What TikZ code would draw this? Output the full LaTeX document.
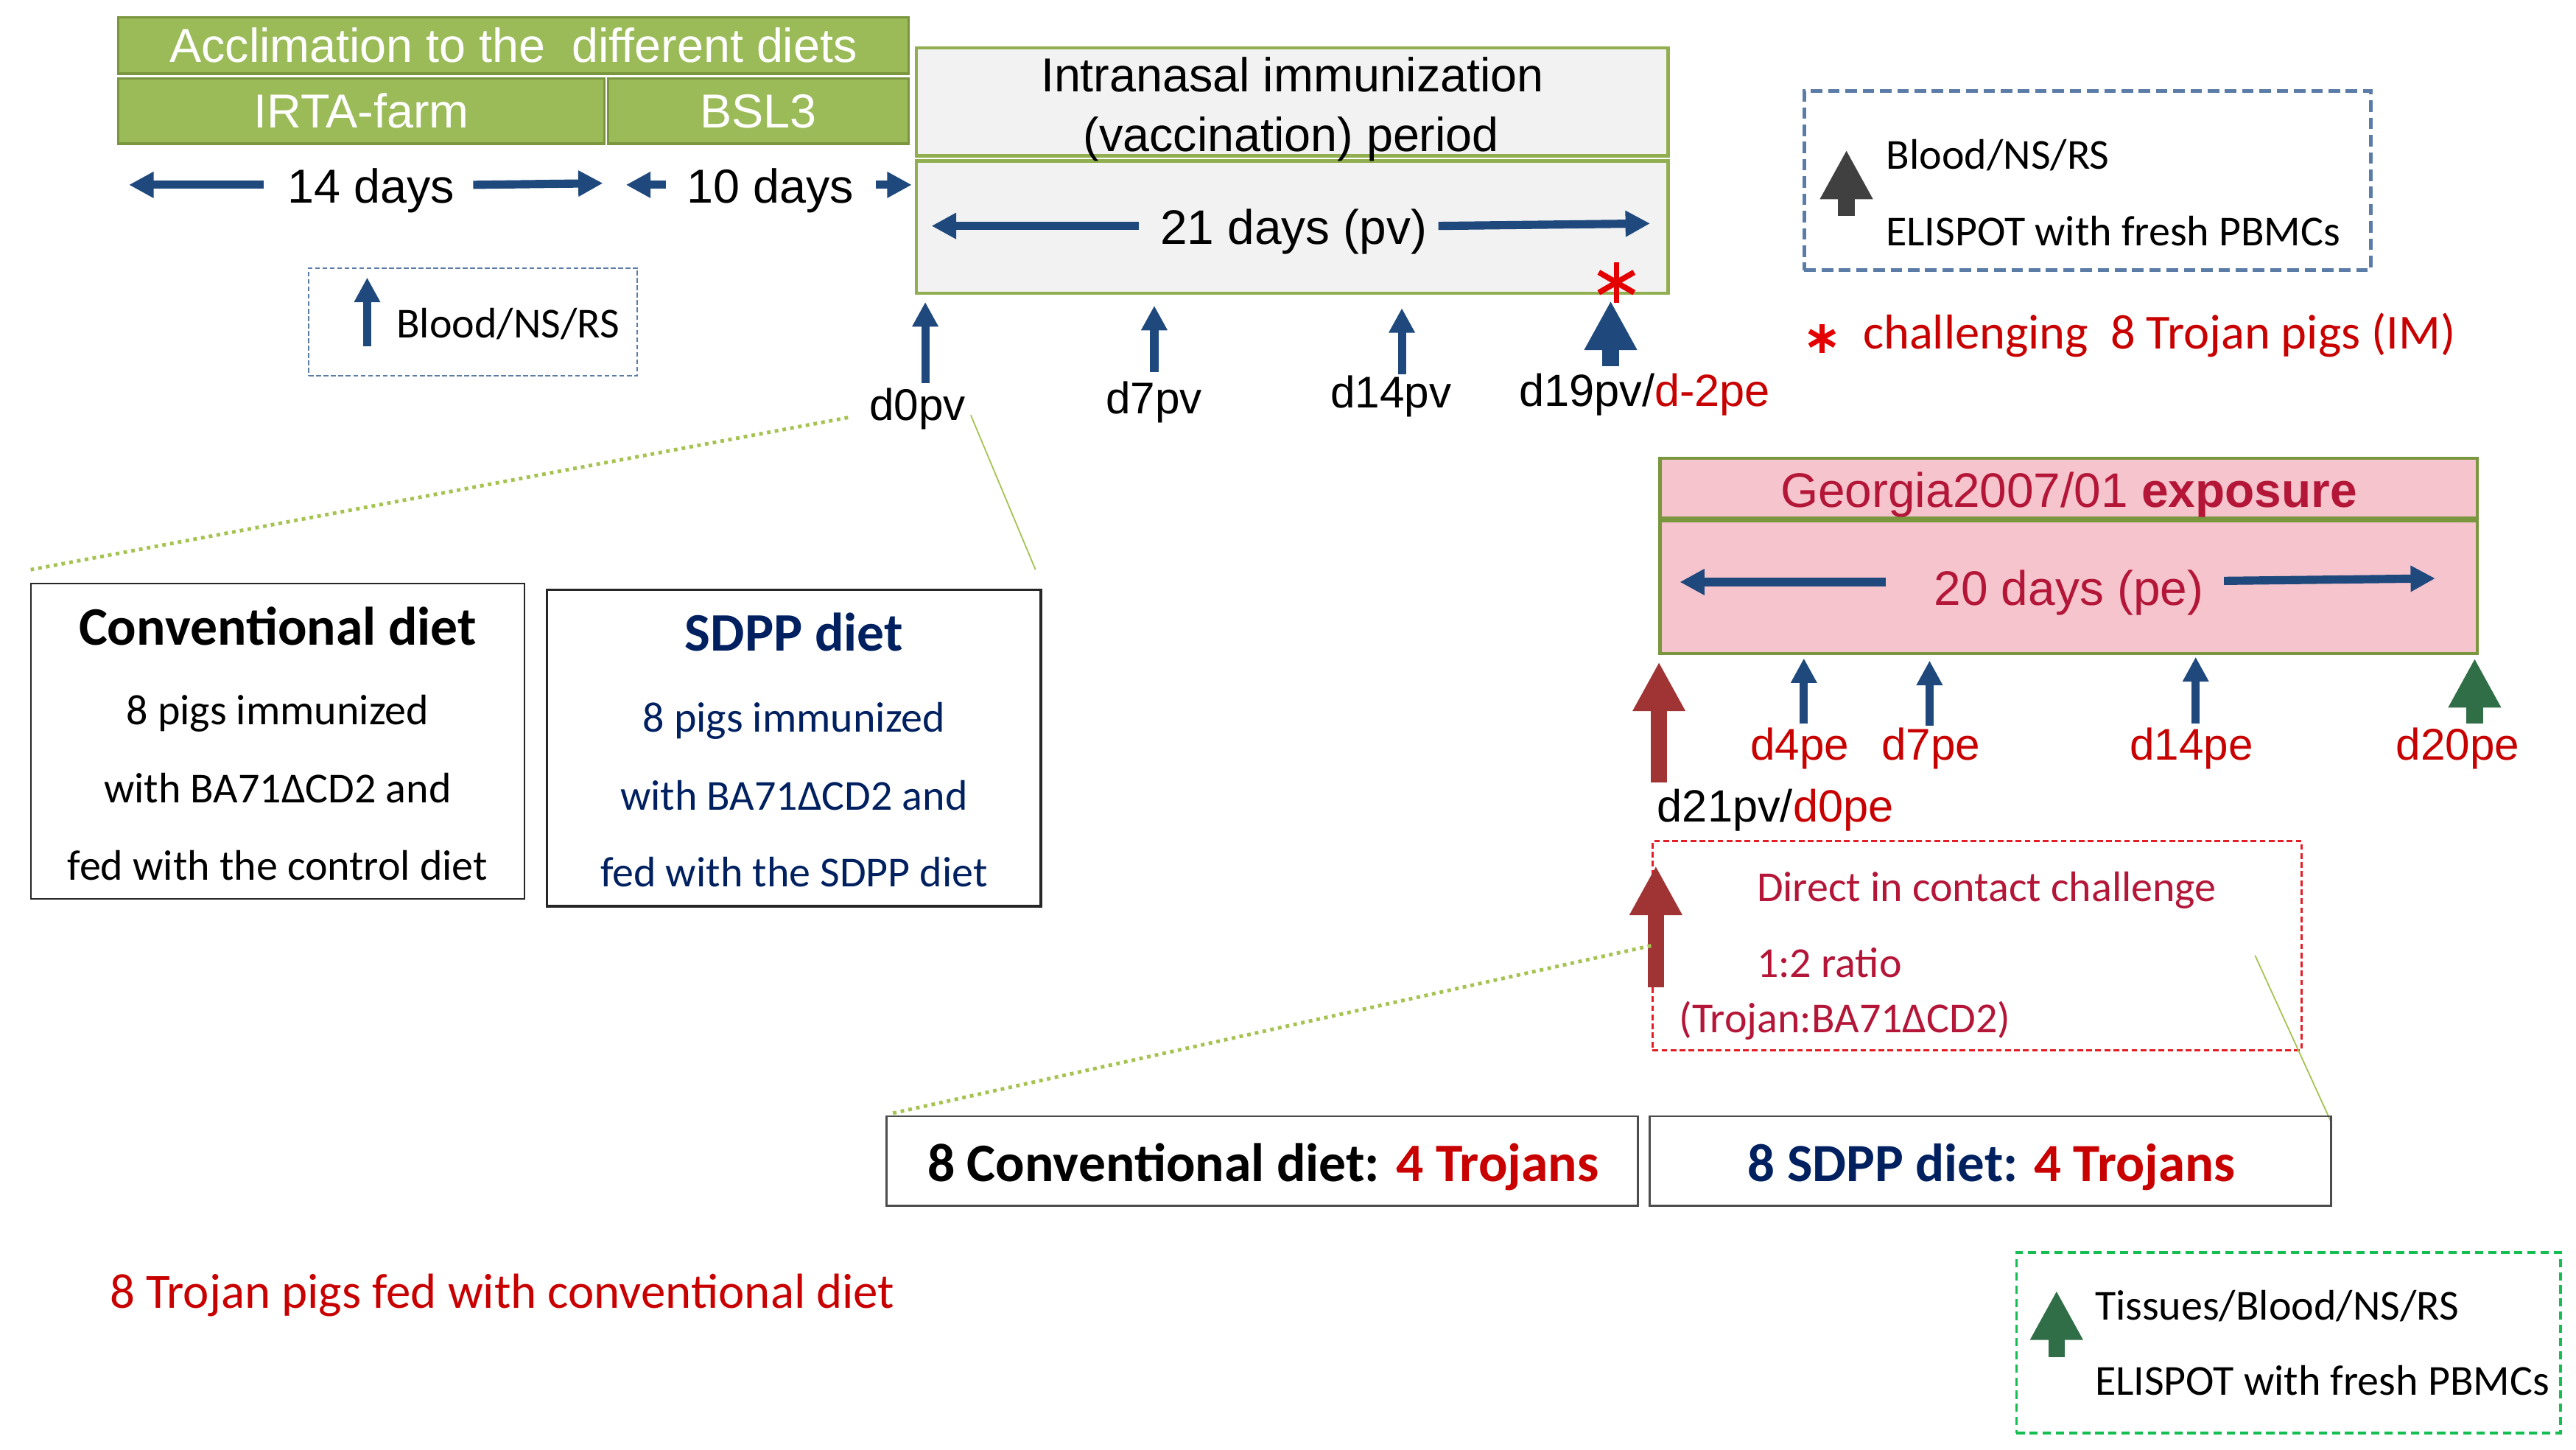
\documentclass[tikz,border=0pt]{standalone}
\usepackage{fontspec}
\setmainfont{Carlito}
\newfontfamily\arialf{Liberation Sans}
\usetikzlibrary{arrows.meta}
\definecolor{accgreen}{RGB}{155,187,89}
\definecolor{accborder}{RGB}{122,150,62}
\definecolor{pvfill}{RGB}{242,242,242}
\definecolor{pvborder}{RGB}{145,175,80}
\definecolor{pinkfill}{RGB}{245,196,205}
\definecolor{navy}{RGB}{0,32,96}
\definecolor{arrblue}{RGB}{31,73,125}
\definecolor{redtxt}{RGB}{200,0,0}
\definecolor{crimson}{RGB}{180,22,56}
\definecolor{arrred}{RGB}{160,52,52}
\definecolor{arrgreen}{RGB}{48,110,72}
\definecolor{arrgray}{RGB}{64,64,64}
\definecolor{legblue}{RGB}{92,124,168}
\definecolor{dashred}{RGB}{228,30,36}
\definecolor{dashgreen}{RGB}{20,190,80}
\definecolor{dotgreen}{RGB}{165,195,80}
\newcommand\fsz[1]{\fontsize{#1}{#1}\selectfont}
\begin{document}
\begin{tikzpicture}[x=1pt,y=-1pt,
  lbl/.style={inner sep=0pt, outer sep=0pt},
  accbox/.style={draw=accborder, fill=accgreen, line width=1.5pt, inner sep=0pt, text=white, font=\arialf\fsz{29}},
  pvbox/.style={draw=pvborder, fill=pvfill, line width=2pt, inner sep=0pt},
  pinkbox/.style={draw=accborder, fill=pinkfill, line width=2pt, inner sep=0pt},
  dietbox/.style={draw=black!85, line width=1pt, inner sep=0pt},
  botbox/.style={draw=black!70, line width=1.2pt, inner sep=0pt},
  legdash/.style={draw=legblue, line width=2.2pt, dash pattern=on 7pt off 3.5pt, inner sep=0pt},
  smalldash/.style={draw=legblue, line width=0.9pt, dash pattern=on 3pt off 1.5pt, inner sep=0pt},
  reddash/.style={draw=dashred, line width=1.3pt, dash pattern=on 3.5pt off 2pt, inner sep=0pt},
  greendash/.style={draw=dashgreen, line width=1.5pt, dash pattern=on 5pt off 3pt, inner sep=0pt},
  thinarr/.style={draw=#1, line width=5pt, -{Triangle[length=15pt,width=15pt]}},
  bigarr/.style={draw=#1, line width=10pt, -{Triangle[length=30pt,width=30pt]}},
  dotline/.style={draw=dotgreen, line width=2.2pt, dash pattern=on 2.2pt off 2.6pt},
  fineline/.style={draw=dotgreen, line width=0.8pt},
  ast/.style={draw=red!90!black, line width=3.4pt}
]
\path[use as bounding box] (0,0) rectangle (1568,882);

% ---------- acclimation ----------
\node[accbox, minimum width=481pt, minimum height=34.3pt] (acc) at (312.5,27.65) {Acclimation to the\ \ different diets};
\node[accbox, minimum width=296pt, minimum height=39.6pt] (irta) at (220,67.6) {IRTA-farm};
\node[accbox, minimum width=183pt, minimum height=39.6pt] (bsl) at (461.5,67.6) {BSL3};

\node[lbl, font=\arialf\fsz{29}, anchor=base] (t14) at (225.8,123.5) {14 days};
\coordinate (a14ls) at (160.6,112.5); \coordinate (a14le) at (78.5,112.5);
\coordinate (a14rs) at (288,112.5); \coordinate (a14re) at (367,111.5);
\draw[thinarr=arrblue] (a14ls) -- (a14le);
\draw[thinarr=arrblue] (a14rs) -- (a14re);
\node[lbl, font=\arialf\fsz{29}, anchor=base] (t10) at (469,123.5) {10 days};
\coordinate (a10ls) at (405.5,112.5); \coordinate (a10le) at (381,112.5);
\coordinate (a10rs) at (533,112.5); \coordinate (a10re) at (555,112.5);
\draw[thinarr=arrblue] (a10ls) -- (a10le);
\draw[thinarr=arrblue] (a10rs) -- (a10re);

% ---------- vaccination period ----------
\node[pvbox, minimum width=457.7pt, minimum height=65.8pt] (ina) at (786.6,62) {};
\node[pvbox, minimum width=457.7pt, minimum height=80.6pt] (pv) at (786.6,138.2) {};
\node[lbl, font=\arialf\fsz{29}, anchor=base] (ina1) at (786.7,56) {Intranasal immunization};
\node[lbl, font=\arialf\fsz{29}, anchor=base] (ina2) at (785.9,92) {(vaccination) period};
\node[lbl, font=\arialf\fsz{29.5}, anchor=base] (pvt) at (787.4,148.7) {21 days (pv)};
\coordinate (a21ls) at (693,137.5); \coordinate (a21le) at (567,137.5);
\coordinate (a21rs) at (875.5,137.5); \coordinate (a21re) at (1004.4,136);
\draw[thinarr=arrblue] (a21ls) -- (a21le);
\draw[thinarr=arrblue] (a21rs) -- (a21re);

% timeline pv
\coordinate (p0s) at (563.2,233.2); \coordinate (p0e) at (563.2,183.8);
\coordinate (p7s) at (702.6,226.4); \coordinate (p7e) at (702.6,186);
\coordinate (p14s) at (853.3,227.8); \coordinate (p14e) at (853.3,187.5);
\coordinate (p19s) at (980.4,222.7); \coordinate (p19e) at (980.4,183);
\draw[thinarr=arrblue] (p0s) -- (p0e);
\draw[thinarr=arrblue] (p7s) -- (p7e);
\draw[thinarr=arrblue] (p14s) -- (p14e);
\draw[bigarr=arrblue] (p19s) -- (p19e);
\node[lbl, font=\arialf\fsz{27}, anchor=base] (d0pv) at (558.4,255.6) {d0pv};
\node[lbl, font=\arialf\fsz{27}, anchor=base] (d7pv) at (702.4,251.9) {d7pv};
\node[lbl, font=\arialf\fsz{27}, anchor=base] (d14pv) at (846.6,248.1) {d14pv};
\node[lbl, font=\arialf\fsz{27.5}, anchor=base west] (d19pv) at (924.6,247.4) {d19pv/\textcolor{redtxt}{d-2pe}};
\coordinate (astA) at (983.9,171.9);
\foreach \ang in {90,30,150} \draw[ast] (astA) ++(\ang:12.4) -- ++(\ang+180:24.8);

% ---------- small legend ----------
\node[smalldash, minimum width=200pt, minimum height=65.7pt] (leg1) at (288,195.85) {};
\coordinate (l1s) at (223.5,210.7); \coordinate (l1e) at (223.5,168.9);
\draw[thinarr=arrblue] (l1s) -- (l1e);
\node[lbl, font=\fsz{26}, anchor=base west] (leg1t) at (241.4,205.5) {Blood/NS/RS};

% ---------- top legend ----------
\node[legdash, minimum width=344.7pt, minimum height=109.1pt] (leg2) at (1270.65,109.85) {};
\coordinate (l2s) at (1123.9,131.5); \coordinate (l2e) at (1123.9,91.2);
\draw[bigarr=arrgray] (l2s) -- (l2e);
\node[lbl, font=\fsz{26}, anchor=base west] (leg2a) at (1148.2,103.1) {Blood/NS/RS};
\node[lbl, font=\fsz{26}, anchor=base west] (leg2b) at (1148,149.5) {ELISPOT with fresh PBMCs};
\coordinate (astB) at (1109,205.9);
\foreach \ang in {90,30,150} \draw[ast, line width=3pt] (astB) ++(\ang:8.8) -- ++(\ang+180:17.6);
\node[lbl, font=\fsz{29.8}, text=redtxt, anchor=base west] (chg) at (1134,212.2) {challenging\ \ 8 Trojan pigs (IM)};

% ---------- diet boxes ----------
\coordinate (dl1) at (516.2,254.1); \coordinate (dl2) at (18.7,346.7);
\coordinate (dr1) at (590.9,252.6); \coordinate (dr2) at (630.3,346.7);
\draw[dotline] (dl1) -- (dl2);
\draw[fineline] (dr1) -- (dr2);
\node[dietbox, minimum width=300.6pt, minimum height=192pt] (conv) at (169,451) {};
\node[lbl, font=\bfseries\fsz{33}, anchor=base] (conv0) at (169,392.4) {Conventional diet};
\node[lbl, font=\fsz{26}, anchor=base] (conv1) at (169,440.9) {8 pigs immunized};
\node[lbl, font=\fsz{26}, anchor=base] (conv2) at (169,488.7) {with BA71ΔCD2 and};
\node[lbl, font=\fsz{26}, anchor=base] (conv3) at (169,535.8) {fed with the control diet};
\node[dietbox, line width=1.6pt, minimum width=300.6pt, minimum height=192.5pt] (sdpp) at (483.3,455.25) {};
\node[lbl, font=\bfseries\fsz{33}, text=navy, anchor=base] (sdpp0) at (483.3,396) {SDPP diet};
\node[lbl, font=\fsz{26}, text=navy, anchor=base] (sdpp1) at (483.3,445.4) {8 pigs immunized};
\node[lbl, font=\fsz{26}, text=navy, anchor=base] (sdpp2) at (483.3,493.2) {with BA71ΔCD2 and};
\node[lbl, font=\fsz{26}, text=navy, anchor=base] (sdpp3) at (483.3,539.6) {fed with the SDPP diet};

% ---------- exposure ----------
\node[pinkbox, minimum width=497.5pt, minimum height=36.6pt] (geo) at (1259.25,297.1) {};
\node[pinkbox, minimum width=497.5pt, minimum height=80.7pt] (pe) at (1259.25,357.25) {};
\node[lbl, font=\arialf\fsz{29.5}, text=crimson, anchor=base] (geot) at (1259.25,308.6) {Georgia2007/01 \textbf{exposure}};
\node[lbl, font=\arialf\fsz{29.5}, text=crimson, anchor=base] (pet) at (1259.25,368.4) {20 days (pe)};
\coordinate (a20ls) at (1147.7,354.2); \coordinate (a20le) at (1022.5,354.2);
\coordinate (a20rs) at (1353.7,353.5); \coordinate (a20re) at (1482.3,352);
\draw[thinarr=arrblue] (a20ls) -- (a20le);
\draw[thinarr=arrblue] (a20rs) -- (a20re);

\coordinate (e0s) at (1009.8,476); \coordinate (e0e) at (1009.8,402.8);
\coordinate (e4s) at (1098,440.2); \coordinate (e4e) at (1098,400.6);
\coordinate (e7s) at (1174.5,441.7); \coordinate (e7e) at (1174.5,402);
\coordinate (e14s) at (1336.5,440.2); \coordinate (e14e) at (1336.5,399.8);
\coordinate (e20s) at (1506.3,440.2); \coordinate (e20e) at (1506.3,400.6);
\draw[bigarr=arrred] (e0s) -- (e0e);
\draw[thinarr=arrblue] (e4s) -- (e4e);
\draw[thinarr=arrblue] (e7s) -- (e7e);
\draw[thinarr=arrblue] (e14s) -- (e14e);
\draw[bigarr=arrgreen] (e20s) -- (e20e);
\node[lbl, font=\arialf\fsz{27}, text=redtxt, anchor=base] (d4pe) at (1095.5,462.6) {d4pe};
\node[lbl, font=\arialf\fsz{27}, text=redtxt, anchor=base] (d7pe) at (1175.3,462.6) {d7pe};
\node[lbl, font=\arialf\fsz{27}, text=redtxt, anchor=base] (d14pe) at (1334,462.6) {d14pe};
\node[lbl, font=\arialf\fsz{27}, text=redtxt, anchor=base] (d20pe) at (1496,462.6) {d20pe};
\node[lbl, font=\arialf\fsz{27.5}, anchor=base west] (d21pv) at (1008.8,500) {d21pv/\textcolor{redtxt}{d0pe}};

% ---------- challenge box ----------
\node[reddash, minimum width=395.2pt, minimum height=127.1pt] (chal) at (1203.5,575.45) {};
\coordinate (c0s) at (1007.9,600.9); \coordinate (c0e) at (1007.9,526.9);
\draw[bigarr=arrred] (c0s) -- (c0e);
\node[lbl, font=\fsz{26}, text=crimson, anchor=base west] (chal1) at (1069.4,548.5) {Direct in contact challenge};
\node[lbl, font=\fsz{26}, text=crimson, anchor=base west] (chal2) at (1069.4,594.9) {1:2 ratio};
\node[lbl, font=\fsz{26}, text=crimson, anchor=base west] (chal3) at (1022.2,628.5) {(Trojan:BA71ΔCD2)};

% ---------- bottom boxes ----------
\coordinate (bl1) at (1005,575.5); \coordinate (bl2) at (541,678);
\coordinate (br1) at (1372.6,581.4); \coordinate (br2) at (1419,683);
\draw[dotline] (bl1) -- (bl2);
\draw[fineline] (br1) -- (br2);
\node[botbox, minimum width=457.6pt, minimum height=54.6pt] (bconv) at (768.3,706.6) {};
\node[botbox, minimum width=414.8pt, minimum height=54.6pt] (bsdpp) at (1211.5,706.6) {};
\node[lbl, font=\bfseries\fsz{33}, anchor=base] (bconvt) at (768.9,718.9) {8 Conventional diet: \textcolor{redtxt}{4 Trojans}};
\node[lbl, font=\bfseries\fsz{32.7}, text=navy, anchor=base] (bsdppt) at (1212.25,718.9) {8 SDPP diet: \textcolor{redtxt}{4 Trojans}};

\node[lbl, font=\fsz{30}, text=redtxt, anchor=base west] (trj) at (66.9,795.9) {8 Trojan pigs fed with conventional diet};

% ---------- green legend ----------
\node[greendash, minimum width=331.1pt, minimum height=109.8pt] (leg3) at (1392.95,817.2) {};
\coordinate (l3s) at (1251.8,825.8); \coordinate (l3e) at (1251.8,785.4);
\draw[bigarr=arrgreen] (l3s) -- (l3e);
\node[lbl, font=\fsz{26}, anchor=base west] (leg3a) at (1275.2,803.4) {Tissues/Blood/NS/RS};
\node[lbl, font=\fsz{26}, anchor=base west] (leg3b) at (1275.2,849) {ELISPOT with fresh PBMCs};
\end{tikzpicture}
\end{document}
